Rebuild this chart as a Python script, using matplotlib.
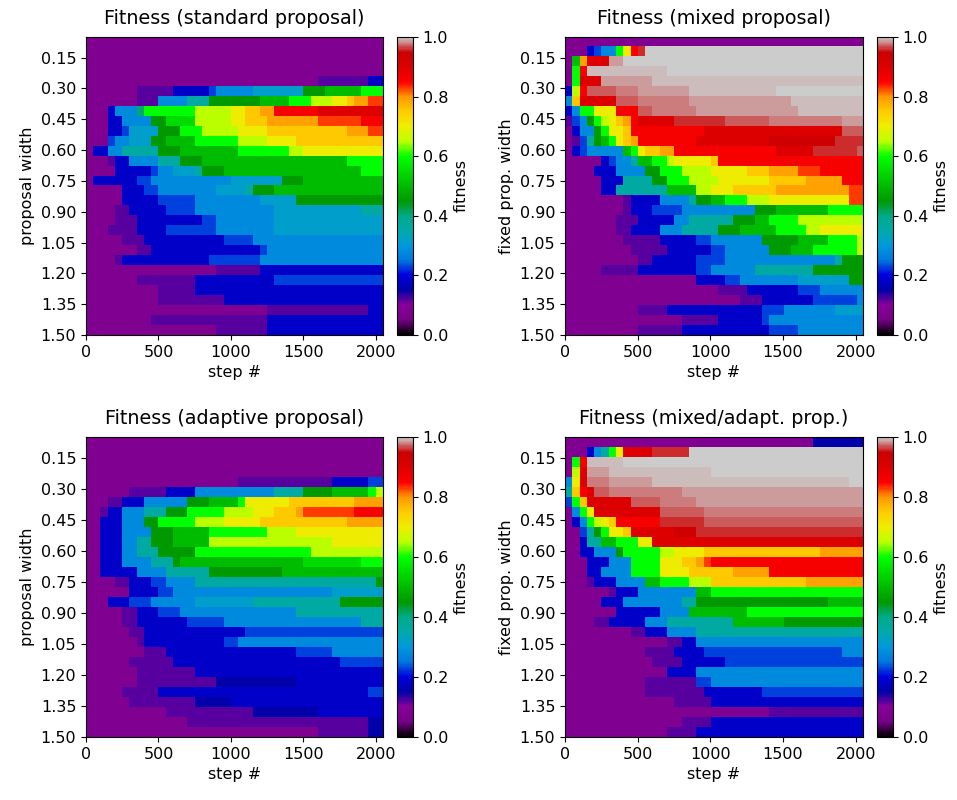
import numpy as np
import matplotlib
matplotlib.use("Agg")
import matplotlib.pyplot as plt

# fitness level for each colour code
FITNESS_CODE = {
    'p': 0.08, 'q': 0.12, 'Q': 0.15, 'b': 0.18, 'B': 0.23, 'c': 0.28,
    'C': 0.32, 't': 0.36, 'T': 0.41, 'g': 0.45, 'G': 0.50, 'h': 0.55,
    'H': 0.60, 'y': 0.65, 'Y': 0.70, 'o': 0.75, 'O': 0.79, 'r': 0.83,
    'R': 0.86, 'd': 0.90, 'D': 0.94, 's': 0.96, 'S': 0.97, 'k': 0.98,
    'l': 0.988, 'm': 0.994, 'n': 0.997, 'K': 1.0,
}

N_STEPS = 41          # columns, one per 50 steps
STEP_MAX = 2050
WIDTH_MIN, WIDTH_MAX = 0.05, 1.50   # 30 rows of proposal width

# rows run top (width 0.05) to bottom (1.50); run-length "code count"
standard_rows = [
    "p41", "p41", "p41", "p41",
    "p32 q7 b2",
    "p7 q5 b5 B1 c5 C7 g3 G5 H3",
    "p7 q3 c4 t3 g7 G4 H3 y3 Y2 o1 O2 r2",
    "p3 b1 c3 T1 H7 y5 Y2 o2 O2 R6 d9",
    "p3 b2 c4 g2 h4 y5 Y2 o3 O7 r6 R3",
    "p3 b2 B1 C4 g3 H3 y5 Y4 o11 O3 r2",
    "p3 B1 c2 C3 g2 G4 H6 y4 Y4 o12",
    "p1 b2 c2 t5 g3 G8 H7 y2 Y11",
    "p3 q1 b2 c4 t3 g3 G20 H5",
    "p4 b5 B1 c2 C3 t1 g3 G19 H3",
    "p1 b6 B2 c11 C7 g3 G11",
    "p5 b3 B2 c8 C4 t1 g3 G15",
    "p5 b5 B5 c9 C5 g12",
    "p4 q2 b5 B4 c11 C12 t3",
    "p4 q3 b9 B2 c8 C15",
    "p3 q4 b4 B7 c8 C15",
    "p5 q3 b11 B4 c18",
    "p7 q2 b15 B1 c16",
    "p4 q1 b12 B7 c17",
    "p18 q6 b17",
    "p7 q8 b11 B15",
    "p10 q5 b26",
    "p10 q9 b22",
    "p25 q14 b2",
    "p9 q16 b16",
    "p18 q7 b16",
]

mixed_rows = [
    "p41",
    "p3 b1 B1 c2 H1 Y1 R1 s1 K30",
    "p1 G1 O1 d3 l2 K33",
    "p1 H1 R1 m11 K27",
    "p1 H1 d3 l7 m29",
    "b1 y1 R1 S4 k3 l7 m12 n12",
    "c1 o1 d5 S3 k7 l14 m10",
    "b1 c1 H2 Y3 R3 S2 k6 l14 m9",
    "q1 B1 c1 g1 H1 y1 Y1 o1 O1 R1 d5 s7 S6 k10 l3",
    "p1 b1 c2 g1 H1 Y2 o1 R10 d19 S3",
    "p1 q1 B1 t1 g1 G1 H1 Y1 o1 O1 R8 d10 D9 s4",
    "p1 b1 B1 c5 G1 H1 Y1 o2 O2 R14 d5 s6 S1",
    "p5 b1 B1 c2 t1 G2 H2 y1 Y5 o1 R20",
    "p4 b3 c4 g2 H3 y4 Y5 o3 O4 r3 R6",
    "p5 b3 t4 g2 H3 y4 Y7 o5 O5 R3",
    "p5 b2 t7 G4 y2 Y3 o6 O10 r2",
    "p8 q1 b4 c4 t1 g2 G2 H3 y3 Y11 r2",
    "p8 q1 b3 B4 c10 g3 G7 H5",
    "p7 q3 b5 c2 t6 g3 G2 H4 y9",
    "p7 q2 b4 c3 t5 g3 G5 H4 y2 Y6",
    "p8 q5 b5 B2 c7 g5 G4 H4 y1",
    "p9 q5 b6 B2 c6 g3 G3 H6 y1",
    "p10 q2 b6 B4 c15 t1 g3",
    "p5 q5 b8 B2 c6 t8 g7",
    "p18 b4 B2 c8 C7 g2",
    "p21 q4 b7 B3 c6",
    "p24 q3 b7 B6 c1",
    "p10 q4 b13 B3 c7 C4",
    "p16 q5 b6 B1 c13",
    "p10 q6 b12 B4 c9",
]

adaptive_rows = [
    "p41", "p41", "p41", "p41",
    "p21 q13 b5 B2",
    "p6 q5 b4 c11 t4 g4 G5 H1 y1",
    "p3 q2 b3 c6 g3 G4 H1 Y6 o9 O4",
    "p2 q1 b2 c3 t3 g3 H5 y4 Y3 o3 O1 r7 R4",
    "p2 b3 c3 g2 H5 y4 Y5 o12 O5",
    "p2 b3 c4 g3 G5 H8 y4 Y12",
    "p2 b3 c2 t2 g3 G5 y17 Y7",
    "p2 b3 c2 t3 g5 H16 y10",
    "p2 b3 c4 t3 g1 G17 h8 H3",
    "p2 b5 c4 t6 g10 G14",
    "p4 q2 b3 B2 c4 t25 g1",
    "p6 b4 B2 c22 C7",
    "p3 b3 B3 c6 C8 t12 g6",
    "p5 q2 b3 B3 c16 t12",
    "p5 q2 b7 B5 c19 t3",
    "p6 q2 b14 B19",
    "p7 q1 b11 B2 c20",
    "p8 q3 b18 B5 c7",
    "p6 q6 b23 B6",
    "p7 q8 b26",
    "p7 q11 Q11 b12",
    "p5 q5 b29 B2",
    "p6 q9 Q5 b21",
    "p11 q12 Q9 b9",
    "p14 q25 Q2",
    "p32 q7 Q2",
]

mixed_adapt_rows = [
    "p34 Q7",
    "p3 b1 c1 t1 H1 Y1 d4 s5 K24",
    "p1 H1 R1 m5 K33",
    "p1 y1 d1 l3 m14 K21",
    "c1 Y1 d1 k3 l6 m27 n2",
    "t1 o1 R1 d1 S2 k10 l25",
    "B1 H1 o1 d6 S4 k5 l23",
    "p1 c1 H1 Y1 d9 S6 k22",
    "p1 b1 c1 H1 y1 Y1 o1 R6 s6 S22",
    "p2 B1 t1 g1 H1 Y2 o1 d6 D3 s23",
    "p2 b1 t2 G2 H3 Y2 d29",
    "p2 b2 c3 g1 H5 y2 Y4 o16 O6",
    "p3 b3 c3 H4 Y3 o2 O1 r1 R21",
    "p3 b2 c4 H4 Y4 o6 O5 R13",
    "p3 q1 b3 c4 G2 H4 y3 o13 O8",
    "p6 q1 b3 c8 G2 H21",
    "p5 b3 c8 t2 g18 G5",
    "p7 b6 c4 G8 H16",
    "p4 q2 b5 c3 t9 G7 g11",
    "p9 q2 b3 c4 t23",
    "p14 q2 b2 c23",
    "p11 q4 b4 B19 c3",
    "p12 q4 b6 B19",
    "p14 b4 c23",
    "p11 q7 B2 c21",
    "p11 q8 b8 B14",
    "p15 q5 b21",
    "p28 q13",
    "p16 q4 b21",
    "p14 q4 b23",
]

titles = ["Fitness (standard proposal)", "Fitness (mixed proposal)",
          "Fitness (adaptive proposal)", "Fitness (mixed/adapt. prop.)"]
ylabels = ["proposal width", "fixed prop. width",
           "proposal width", "fixed prop. width"]
width_ticks = [0.15, 0.30, 0.45, 0.60, 0.75, 0.90, 1.05, 1.20, 1.35, 1.50]
step_ticks = [0, 500, 1000, 1500, 2000]
cbar_ticks = [0.0, 0.2, 0.4, 0.6, 0.8, 1.0]


def decode(rows):
    grid = []
    for row in rows:
        vals = []
        for tok in row.split():
            vals += [FITNESS_CODE[tok[0]]] * int(tok[1:])
        assert len(vals) == N_STEPS, (row, len(vals))
        grid.append(vals)
    return np.array(grid)


W, H = 957, 800
fig = plt.figure(figsize=(W / 100, H / 100), dpi=100)

# pixel boxes (left, top, right, bottom) of each heatmap and its colorbar
boxes = [(86, 37, 383, 335), (565, 37, 863, 335),
         (86, 437, 383, 737), (565, 437, 863, 737)]
cbar_x = [(397, 413), (877, 893), (397, 413), (877, 893)]

FS = 11.5
panels = [standard_rows, mixed_rows, adaptive_rows, mixed_adapt_rows]
for i, rows in enumerate(panels):
    l, t, r, b = boxes[i]
    ax = fig.add_axes([l / W, 1 - b / H, (r - l) / W, (b - t) / H])
    data = decode(rows)
    im = ax.imshow(data, cmap='nipy_spectral', vmin=0, vmax=1,
                   aspect='auto', interpolation='nearest',
                   extent=[0, STEP_MAX, WIDTH_MAX, WIDTH_MIN])
    ax.set_yticks(width_ticks)
    ax.set_yticklabels(["%.2f" % v for v in width_ticks])
    ax.set_xticks(step_ticks)
    ax.tick_params(labelsize=FS)
    ax.set_title(titles[i], fontsize=13.8, pad=9)
    ax.set_xlabel("step #", fontsize=FS)
    ax.set_ylabel(ylabels[i], fontsize=FS)

    cl, cr = cbar_x[i]
    cax = fig.add_axes([cl / W, 1 - b / H, (cr - cl) / W, (b - t) / H])
    cb = fig.colorbar(im, cax=cax, ticks=cbar_ticks)
    cb.ax.tick_params(labelsize=FS)
    cb.set_label("fitness", fontsize=FS)

fig.savefig("out.png", dpi=100)
